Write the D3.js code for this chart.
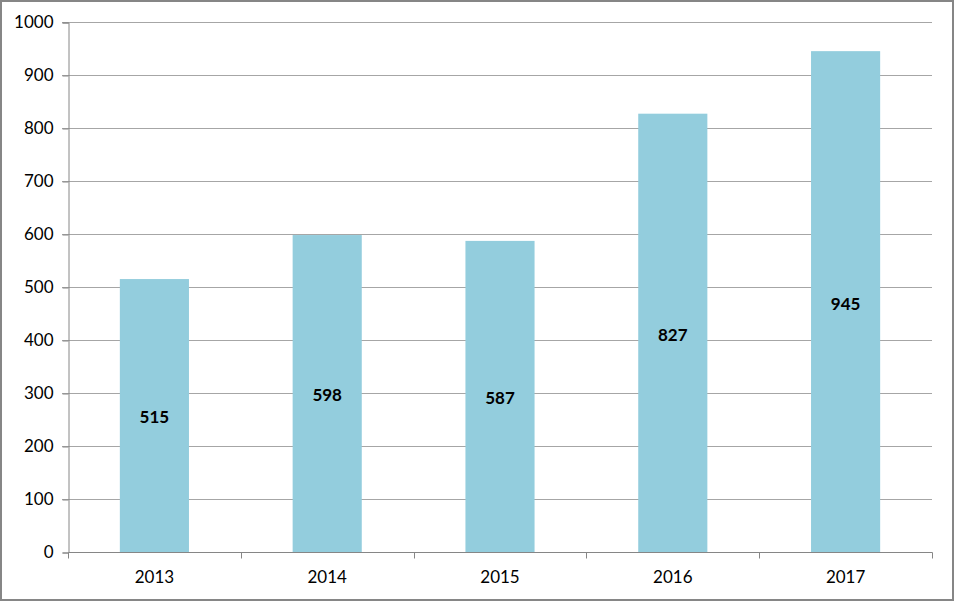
<!DOCTYPE html>
<html><head><meta charset="utf-8">
<script src="https://cdn.jsdelivr.net/npm/d3@7"></script>
<style>
html,body{margin:0;padding:0;background:#fff;}
svg{display:block;}
</style></head>
<body>
<svg id="chart" width="954" height="601"></svg>
<script>
const categories = ["2013", "2014", "2015", "2016", "2017"];
const values = [515, 598, 587, 827, 945];
const yTicks = [0, 100, 200, 300, 400, 500, 600, 700, 800, 900, 1000];

const W = 954, H = 601;
const m = {left: 68, right: 22, top: 22, bottom: 49};
const svg = d3.select("#chart");
const font = "Lato, 'Open Sans', sans-serif";

svg.append("rect").attr("x", 1).attr("y", 1).attr("width", W - 2).attr("height", H - 2)
  .attr("fill", "#fff").attr("stroke", "#868686").attr("stroke-width", 2);

const x = d3.scaleBand().domain(categories).range([m.left, W - m.right]).paddingInner(0).paddingOuter(0);
const y = d3.scaleLinear().domain([0, 1000]).range([H - m.bottom, m.top]);

// gridlines
svg.append("g").selectAll("line").data(yTicks.filter(d => d > 0)).join("line")
  .attr("x1", m.left - 6).attr("x2", W - m.right)
  .attr("y1", d => Math.round(y(d)) + 0.5).attr("y2", d => Math.round(y(d)) + 0.5)
  .attr("stroke", "#a6a6a6").attr("stroke-width", 1);

// bars
const bw = x.bandwidth() * 0.4;
svg.append("g").selectAll("rect").data(values).join("rect")
  .attr("x", (d, i) => x(categories[i]) + (x.bandwidth() - bw) / 2)
  .attr("width", bw)
  .attr("y", d => y(d))
  .attr("height", d => y(0) - y(d))
  .attr("fill", "#93cddd");

// y axis
const yAxis = d3.axisLeft(y).tickValues(yTicks).tickSize(6).tickPadding(9).tickFormat(d3.format("d"));
const gy = svg.append("g").attr("transform", `translate(${m.left + 0.5},0.5)`).call(yAxis);
gy.select(".domain").attr("stroke", "#868686");
gy.selectAll(".tick line").attr("stroke", "#868686");
gy.selectAll(".tick text").attr("font-family", font).attr("font-size", 17).attr("fill", "#000");

// x axis
const xAxis = d3.axisBottom(x).tickSize(0).tickPadding(18);
const gx = svg.append("g").attr("transform", `translate(0,${Math.round(y(0)) + 0.5})`).call(xAxis);
gx.select(".domain").attr("stroke", "#868686").attr("d", `M${m.left + 0.5},0H${W - m.right + 0.5}`);
gx.selectAll(".tick text").attr("font-family", font).attr("font-size", 17).attr("fill", "#000");
// boundary tick marks
const bounds = categories.map(c => x(c)).concat([x.range()[1]]);
gx.append("g").selectAll("line").data(bounds).join("line")
  .attr("x1", d => Math.round(d) + 0.5).attr("x2", d => Math.round(d) + 0.5)
  .attr("y1", 0).attr("y2", 6).attr("stroke", "#868686");

// value labels
svg.append("g").selectAll("text").data(values).join("text")
  .attr("x", (d, i) => x(categories[i]) + x.bandwidth() / 2)
  .attr("y", d => y(d / 2) + 2)
  .attr("dy", "0.35em")
  .attr("text-anchor", "middle")
  .attr("font-family", font).attr("font-weight", "bold").attr("font-size", 17)
  .attr("fill", "#000")
  .text(d => d);
</script>
</body></html>
